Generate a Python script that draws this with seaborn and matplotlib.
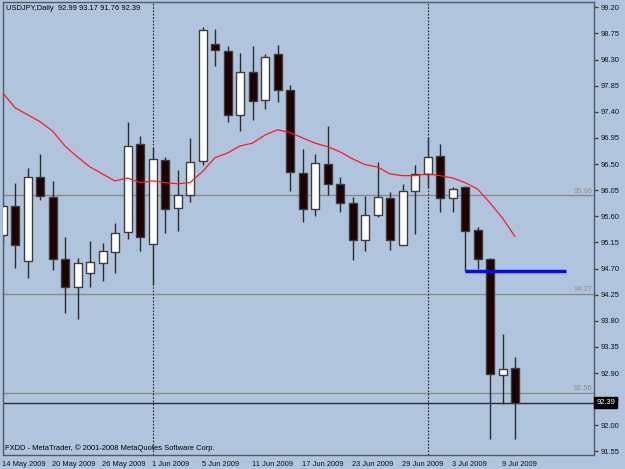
import matplotlib
matplotlib.use("Agg")
import matplotlib.pyplot as plt
import seaborn as sns
import numpy as np
import pandas as pd

# USDJPY daily, 14 May 2009 .. 10 Jul 2009
opens = [95.27, 95.77, 94.83, 96.28, 95.93, 94.86, 94.39, 94.62, 94.80, 94.99,
         95.33, 96.84, 95.12, 96.57, 95.74, 95.96, 96.55, 98.57, 98.45, 97.34,
         98.09, 97.60, 98.40, 97.78, 96.35, 95.73, 96.50, 96.16, 95.83, 95.19,
         95.62, 95.92, 95.11, 96.04, 96.33, 96.63, 95.91, 96.10, 95.36, 94.86,
         92.86, 92.99]
highs = [95.85, 96.17, 96.43, 96.68, 96.21, 95.25, 94.89, 95.18, 95.14, 95.48,
         97.23, 96.98, 96.80, 96.62, 96.39, 96.95, 98.86, 98.83, 98.53, 98.41,
         98.53, 98.40, 98.55, 97.86, 96.76, 96.67, 97.16, 96.28, 95.94, 95.95,
         96.54, 96.02, 96.15, 96.49, 96.96, 96.85, 96.10, 96.12, 95.42, 94.88,
         93.58, 93.17]
lows = [95.10, 94.71, 94.54, 95.88, 94.67, 93.94, 93.83, 94.39, 94.49, 94.62,
        95.21, 95.00, 94.42, 95.31, 95.34, 95.84, 96.49, 98.18, 97.22, 97.07,
        97.26, 97.44, 97.56, 96.04, 95.50, 95.60, 95.96, 95.68, 94.85, 95.01,
        95.59, 95.02, 95.10, 95.29, 96.11, 95.67, 95.67, 94.65, 94.69, 91.77,
        92.37, 91.76]
closes = [95.77, 95.10, 96.27, 95.95, 94.87, 94.39, 94.79, 94.82, 95.01, 95.31,
          96.81, 95.25, 96.58, 95.72, 95.96, 96.54, 98.81, 98.46, 97.34, 98.08,
          97.59, 98.34, 97.78, 96.36, 95.72, 96.51, 96.16, 95.83, 95.19, 95.62,
          95.93, 95.19, 96.03, 96.33, 96.62, 95.92, 96.07, 95.34, 94.87, 92.89,
          92.97, 92.39]
ma = [97.73, 97.47, 97.35, 97.23, 97.07, 96.81, 96.62, 96.45, 96.33, 96.21,
      96.26, 96.18, 96.21, 96.18, 96.16, 96.18, 96.37, 96.61, 96.69, 96.81,
      96.86, 97.00, 97.09, 97.04, 96.95, 96.86, 96.80, 96.71, 96.59, 96.49,
      96.45, 96.33, 96.30, 96.30, 96.33, 96.30, 96.26, 96.18, 96.07, 95.83,
      95.57, 95.25]

tick_pos = [0, 4, 8, 12, 16, 20, 24, 28, 32, 36, 40]
tick_labels = ["14 May 2009", "20 May 2009", "26 May 2009", "1 Jun 2009",
               "5 Jun 2009", "11 Jun 2009", "17 Jun 2009", "23 Jun 2009",
               "29 Jun 2009", "3 Jul 2009", "9 Jul 2009"]
y_ticks = [99.20, 98.75, 98.30, 97.85, 97.40, 96.95, 96.50, 96.05, 95.60,
           95.15, 94.70, 94.25, 93.80, 93.35, 92.90, 92.45, 92.00, 91.55]
month_starts = [12, 34]
levels = [95.96, 94.27, 92.56]
bid = 92.39
support = 94.66
support_from, support_to = 37, 45.1

df = pd.DataFrame({"open": opens, "high": highs, "low": lows,
                   "close": closes, "ma": ma})
df["i"] = np.arange(len(df))

bg = "#B0C4DE"
sns.set_theme(style="white", rc={"axes.facecolor": bg, "figure.facecolor": bg})
plt.rcParams["font.family"] = ["Liberation Sans", "DejaVu Sans"]
fs = 5.4

fig = plt.figure(figsize=(6.25, 4.69), dpi=100)
ax = fig.add_axes([0.004, 0.0299, 0.9464, 0.9658])

# wicks
ax.vlines(df["i"], df["low"], df["high"], color="#2a2a2a", lw=1, zorder=2)
# bodies
up = df["close"] >= df["open"]
body_lo = df[["open", "close"]].min(axis=1)
body_h = (df["close"] - df["open"]).abs()
ax.bar(df["i"][up], body_h[up], bottom=body_lo[up], width=0.64,
       color="white", edgecolor="#3c3c3c", linewidth=1, zorder=3)
ax.bar(df["i"][~up], body_h[~up], bottom=body_lo[~up], width=0.64,
       color="#1e0000", edgecolor="#3c3c3c", linewidth=1, zorder=3)

# moving average
sns.lineplot(data=df, x="i", y="ma", color="#ff1a1a", lw=0.9, ax=ax, zorder=4)

# price levels
for lv in levels:
    ax.axhline(lv, color="#8a8a8a", lw=1, zorder=1)
    ax.text(47.2, lv + 0.01, f"{lv:.2f}", ha="right", va="bottom",
            fontsize=fs, color="#8f8f8f", zorder=1)
ax.axhline(bid, color="#2a2a3a", lw=1, zorder=1)
ax.hlines(support, support_from, support_to, color="#0a0aee", lw=2.5, zorder=5)
for m in month_starts:
    ax.axvline(m, color="#202020", lw=0.8, ls=(0, (1.5, 1.5)), zorder=1)

ax.set_xlim(0, 47.32)
ax.set_ylim(91.49, 99.29)
ax.set_xticks(tick_pos)
ax.set_xticklabels(tick_labels, ha="left", fontsize=fs, color="#111111")
ax.set_yticks(y_ticks)
ax.set_yticklabels([f"{v:.2f}" for v in y_ticks], fontsize=fs, color="#111111")
ax.yaxis.tick_right()
ax.tick_params(axis="y", direction="out", length=3, width=1, color="#404040", pad=2)
ax.tick_params(axis="x", direction="out", length=3, width=1, color="#404040", pad=1.5)
ax.set_xlabel("")
ax.set_ylabel("")
for s in ax.spines.values():
    s.set_color("#505a66")
    s.set_linewidth(1)

ax.annotate(f"{bid:.2f}", xy=(1.004, bid), xycoords=("axes fraction", "data"),
            ha="left", va="center", fontsize=fs, color="white",
            bbox=dict(boxstyle="square,pad=0.3", fc="black", ec="black"),
            annotation_clip=False, zorder=10)

ax.text(0.006, 0.993, "USDJPY,Daily  92.99 93.17 91.76 92.39",
        transform=ax.transAxes, ha="left", va="top", fontsize=fs, color="black")
ax.text(0.005, 0.007, "FXDD - MetaTrader, \u00a9 2001-2008 MetaQuotes Software Corp.",
        transform=ax.transAxes, ha="left", va="bottom", fontsize=fs, color="black")

fig.savefig("out.png", dpi=100, facecolor=bg)
